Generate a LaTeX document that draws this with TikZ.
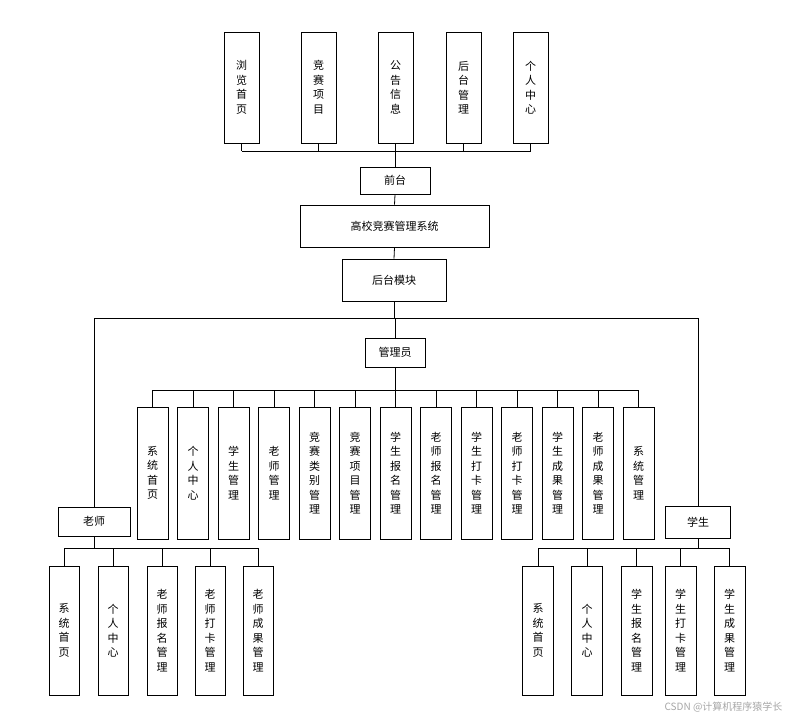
\documentclass[tikz,border=0pt]{standalone}
\usepackage{fontspec}
\setmainfont{Noto Sans CJK SC}
\begin{document}
\begin{tikzpicture}[x=1pt,y=-1pt,
  box/.style={draw=black,line width=0.8pt,inner sep=0pt,font=\fontsize{11}{11}\selectfont},
  vbox/.style={box,align=center,font=\fontsize{11}{14.5}\selectfont},
  ln/.style={draw=black,line width=0.8pt}]
\useasboundingbox (0,0) rectangle (792,721);
% top
\foreach \n/\x/\t in {t1/241.5/{浏\\览\\首\\页},t2/318.5/{竞\\赛\\项\\目},t3/395.5/{公\\告\\信\\息},t4/463.5/{后\\台\\管\\理},t5/530.5/{个\\人\\中\\心}}
  \node[vbox,minimum width=35,minimum height=111] (\n) at (\x,87.5) {\t};
\coordinate (tbus) at (395,151);
\node[box,minimum width=70,minimum height=27] (qt) at (395,180.5) {前台};
\node[box,minimum width=189,minimum height=42] (sys) at (394.5,226) {高校竞赛管理系统};
\node[box,minimum width=104,minimum height=42] (ht) at (394,280) {后台模块};
\node[box,minimum width=60,minimum height=29] (gly) at (395,352.5) {管理员};
\node[box,minimum width=72,minimum height=29] (ls) at (94,521.5) {老师};
\node[box,minimum width=65,minimum height=32] (xs) at (698,522) {学生};
\foreach \n in {t1,t2,t3,t4,t5} \draw[ln] (\n.south) -- (\n.south |- tbus);
\draw[ln] (t1.south |- tbus) -- (t5.south |- tbus);
\draw[ln] (qt.north) -- (qt.north |- tbus);
\draw[ln] (qt.south) -- (sys.north);
\draw[ln] (sys.south) -- (ht.north);
\coordinate (hbus) at (394,318);
\draw[ln] (ht.south) -- (hbus);
\draw[ln] (ls.north) -- (ls.north |- hbus) -- (xs.north |- hbus) -- (xs.north);
\draw[ln] (gly.north) -- (gly.north |- hbus);
% admin children
\coordinate (abus) at (395,390);
\draw[ln] (gly.south) -- (abus);
\foreach \i/\t in {0/{系\\统\\首\\页},1/{个\\人\\中\\心},2/{学\\生\\管\\理},3/{老\\师\\管\\理},4/{竞\\赛\\类\\别\\管\\理},5/{竞\\赛\\项\\目\\管\\理},6/{学\\生\\报\\名\\管\\理},7/{老\\师\\报\\名\\管\\理},8/{学\\生\\打\\卡\\管\\理},9/{老\\师\\打\\卡\\管\\理},10/{学\\生\\成\\果\\管\\理},11/{老\\师\\成\\果\\管\\理},12/{系\\统\\管\\理}}{
  \node[vbox,minimum width=31,minimum height=132] (a\i) at (152.5+40.5*\i,473) {\t};
  \draw[ln] (a\i.north) -- (a\i.north |- abus);
}
\draw[ln] (a0.north |- abus) -- (a12.north |- abus);
% teacher children
\coordinate (lbus) at (94,548);
\draw[ln] (ls.south) -- (lbus);
\foreach \i/\x/\t in {0/64/{系\\统\\首\\页},1/113/{个\\人\\中\\心},2/162/{老\\师\\报\\名\\管\\理},3/210/{老\\师\\打\\卡\\管\\理},4/258/{老\\师\\成\\果\\管\\理}}{
  \node[vbox,minimum width=30,minimum height=129] (l\i) at (\x,630.5) {\t};
  \draw[ln] (l\i.north) -- (l\i.north |- lbus);
}
\draw[ln] (l0.north |- lbus) -- (l4.north |- lbus);
% student children
\coordinate (sbus) at (698,548);
\draw[ln] (xs.south) -- (sbus);
\foreach \i/\x/\t in {0/538/{系\\统\\首\\页},1/587/{个\\人\\中\\心},2/636.5/{学\\生\\报\\名\\管\\理},3/680.5/{学\\生\\打\\卡\\管\\理},4/729.5/{学\\生\\成\\果\\管\\理}}{
  \node[vbox,minimum width=31,minimum height=129] (s\i) at (\x,630.5) {\t};
  \draw[ln] (s\i.north) -- (s\i.north |- sbus);
}
\draw[ln] (s0.north |- sbus) -- (s4.north |- sbus);
\node[text=gray!70,font=\fontsize{10}{10}\selectfont,anchor=east] (wm) at (786,707) {CSDN @计算机程序猿学长};
\end{tikzpicture}
\end{document}
